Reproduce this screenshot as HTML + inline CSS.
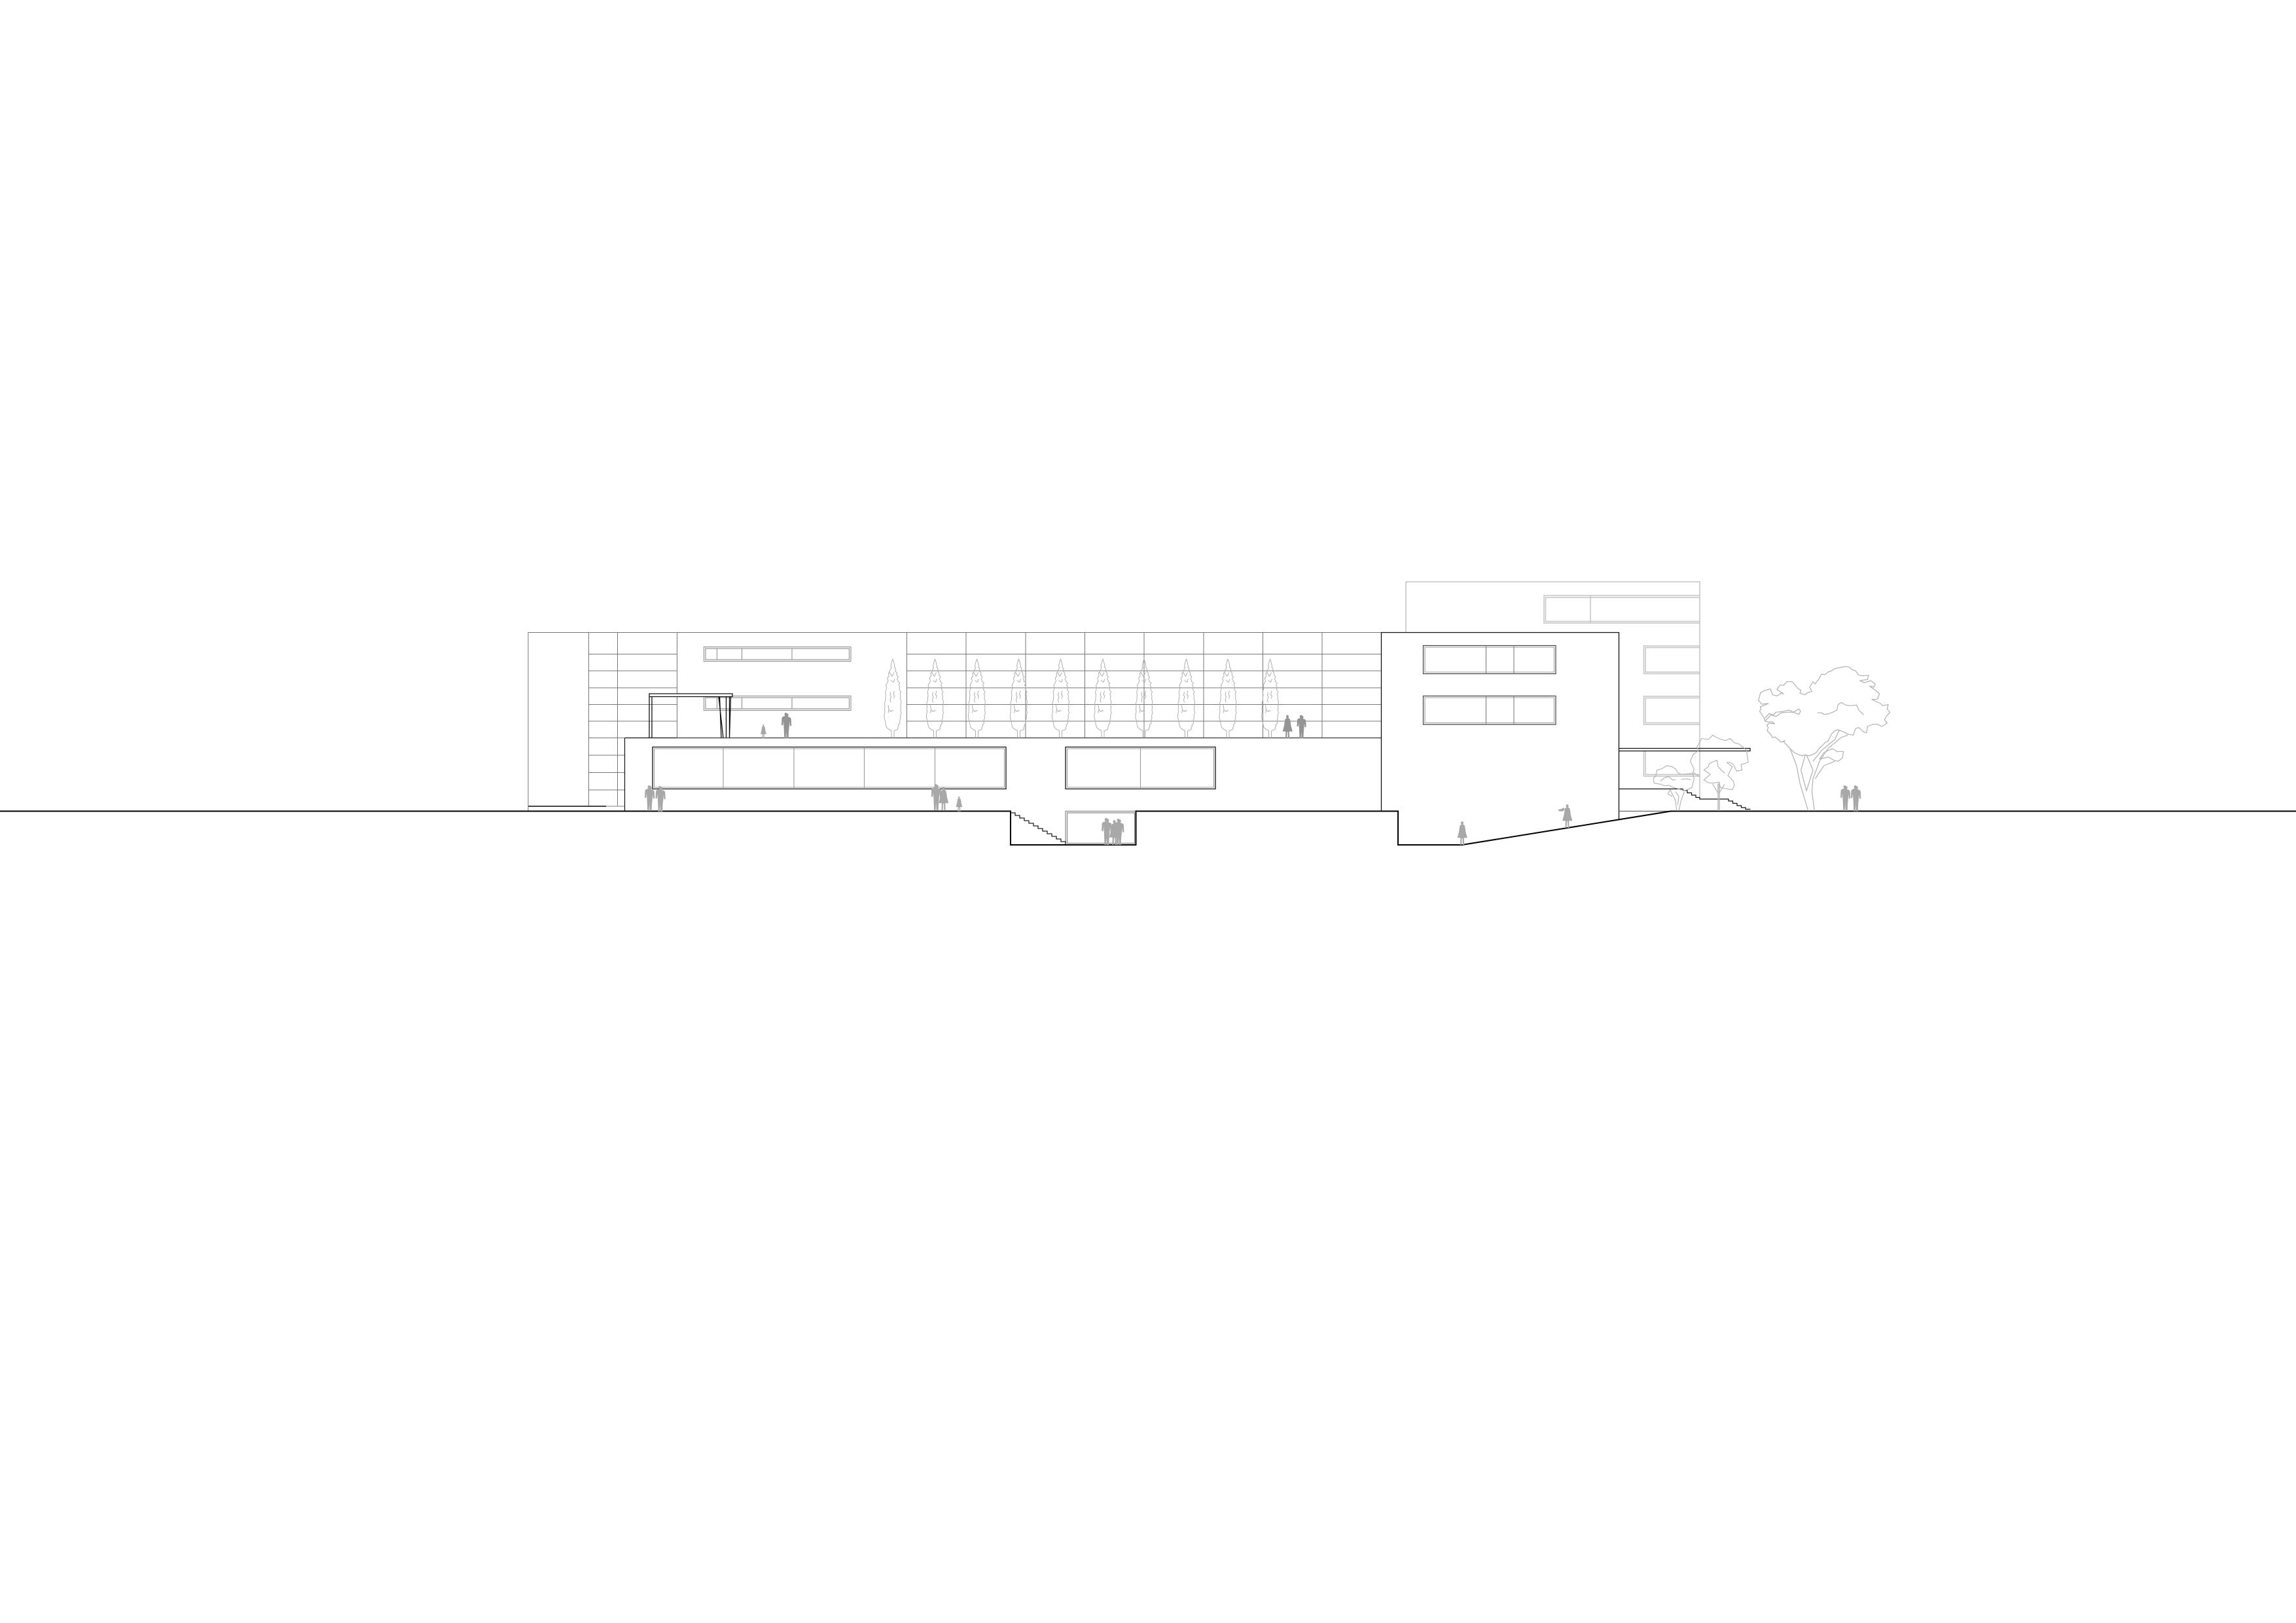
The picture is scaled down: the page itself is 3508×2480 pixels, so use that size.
<!DOCTYPE html>
<html><head><meta charset="utf-8"><style>html,body{margin:0;padding:0;background:#fff}svg{display:block}</style></head><body>
<svg xmlns="http://www.w3.org/2000/svg" width="3508" height="2480" viewBox="0 0 3508 2480">
<defs>
<g id="man"><path d="M0-100c5 0 7 3 7 7 0 3-1 5-3 6l9 3c4 2 5 6 5 12l1 22-6 1-2-18-1 20-2 20-1 27H-1l-1-28-2 28h-6l-1-30-1-20-1-20-2 18-6-1 1-22c0-6 1-10 5-12l9-3c-2-1-3-3-3-6 0-4 2-7 7-7z"/></g>
<g id="dress"><path d="M0-100c5 0 7 3 7 7 0 3-1 5-2 6l7 4 3 16 1 10 7 27H9l1 30H4l-1-28-3 0-1 28h-6l1-30H-19l7-27 1-10 3-16 7-4c-2-1-3-3-3-6 0-4 2-7 7-7z"/></g>
<g id="cyp" fill="none" stroke="#b0b0b0" stroke-width="1" stroke-linejoin="round">
<path d="M-2-11L-2 0M2-11L2 0M2-11L6-12 8-14 7.500-16 9-18 8.500-20 11-22 10.500-26 12-31 11.500-34 13-38 12-42 12.500-47 12-50 13-55 11.500-60 12-64 11-67 12.500-70 10-74 10.500-78 9-81 11-84 8-86 8-88 6.500-90 8.500-93 6-96 6.500-99 4-102 4.500-106 2.500-108 3-110 1.500-116 0-120.500-1.500-116-3-110-2-108-2.500-106-5-102-4.500-100-6.500-99-6-94-8-92-8-90-7-87-8.500-84-10.500-80-9.500-77-10-74-11.500-70-10.500-66-11-62-11-58-12.500-53-12-48-12.500-44-12-40-13-35-13-31-11.500-26-11-22-9.500-16-6-13-2-11"/>
<path d="M-3-70L-4-65-2.500-63-4-58-3-54M2.500-72L1-66 3-64 1.500-60M-7-50L-6-43-7-38M-6-43L-3-40-1-42 1-41M-5-100L-1-94 2-100M-3-88L1-85 3-90"/>
</g>
</defs>

<!-- back building -->
<g fill="none" stroke="#c4c4c4" stroke-width="1.500">
<path d="M2148 966V889H2597V1221"/>
<path d="M2430 910V952"/>
<path d="M2597 910H2359V952H2597M2597 913H2361.500V949.500H2597"/>
<path d="M2597 987H2511.500V1029.500H2597M2597 989.500H2514V1027H2597"/>
<path d="M2597 1064H2511.500V1107H2597M2597 1066.500H2514V1104.500H2597"/>
<path d="M2511.500 1147.500V1186H2597M2514 1147.500V1183.500H2597"/>
</g>

<!-- grid wall -->
<g fill="none" stroke="#777" stroke-width="1">
<path d="M807 1239V966.500H2111"/>
<path d="M899.500 966.500V1232M943.500 966.500V1232M1034.500 966.500V1127.500M1385.500 966.500V1127.500M1476 966.500V1127.500M1567 966.500V1127.500M1657.500 966.500V1127.500M1748 966.500V1127.500M1839 966.500V1127.500M1929.500 966.500V1127.500M2020 966.500V1127.500"/>
<path d="M899 999.500H1034M899 1025H1034M899 1051H1034M899 1076.500H1034M899 1102H1034M899 1127.500H954M899 1154H954M899 1180.500H954M899 1207H954"/>
<path d="M1385 999.500H2111M1385 1025H2111M1385 1051H2111M1385 1076.500H2111M1385 1102H2111"/>
<path d="M1034 1127.500H2111" stroke="#555" stroke-width="1.500"/>
</g>

<!-- upper wall windows -->
<g fill="none" stroke="#999" stroke-width="1.200">
<path d="M1075.500 988.500H1300V1010.500H1075.500ZM1078 991H1297.500V1008H1078Z"/>
<path d="M1095.500 991V1008M1133.500 991V1008M1210 991V1008"/>
<path d="M1075.500 1063.500H1300V1085.500H1075.500ZM1078 1066H1297.500V1083H1078Z"/>
<path d="M1095.500 1066V1083M1133.500 1066V1083M1210 1066V1083"/>
</g>

<!-- cypress trees -->
<use href="#cyp" transform="translate(1364,1127.500)"/>
<use href="#cyp" transform="translate(1428.500,1127.500)"/>
<use href="#cyp" transform="translate(1492.500,1127.500)"/>
<use href="#cyp" transform="translate(1556.500,1127.500)"/>
<use href="#cyp" transform="translate(1620.500,1127.500)"/>
<use href="#cyp" transform="translate(1685,1127.500)"/>
<use href="#cyp" transform="translate(1748,1127.500)"/>
<use href="#cyp" transform="translate(1812.500,1127.500)"/>
<use href="#cyp" transform="translate(1876,1127.500)"/>
<use href="#cyp" transform="translate(1940.500,1127.500)"/>

<!-- canopy -->
<g fill="none" stroke="#111" stroke-width="1.300">
<path d="M992 1060H1119V1064.500H992Z" fill="#fff"/>
<path d="M992 1064.500V1127.500M996 1064.500V1127.500"/>
<path d="M1098 1064.500L1105 1127.500M1099.500 1064.500L1102 1127.500" />
<path d="M1109.500 1064.500V1127.500M1114.500 1064.500V1127.500M1116.500 1064.500L1114.500 1127.500"/>
</g>
<path d="M954.500 1127.500H1034" stroke="#111" stroke-width="1.300"/>

<!-- front block: low building -->
<g fill="none" stroke="#111" stroke-width="1.200">
<path d="M954.500 1127.500V1239"/>
<path d="M997 1141.500H1537V1205.500H997Z" stroke-width="1.300"/>
<path d="M1628 1141.500H1857V1205.500H1628Z" stroke-width="1.300"/>
</g>
<g fill="none" stroke="#999" stroke-width="1.100">
<path d="M999.500 1144H1534.500V1203H999.500Z"/>
<path d="M1630.500 1144H1854.500V1203H1630.500Z"/>
<path d="M1105 1141.500V1205.500M1213 1141.500V1205.500M1320.500 1141.500V1205.500M1428.500 1141.500V1205.500M1742.500 1141.500V1205.500"/>
</g>

<!-- dark strip bottom-left -->
<path d="M807 1232H926" stroke="#444" stroke-width="2" fill="none"/>
<path d="M926 1232H954" stroke="#aaa" stroke-width="1.500" fill="none"/>

<!-- sunken window -->
<g fill="none" stroke="#888" stroke-width="1.200">
<path d="M1628 1291V1239.500H1735"/>
<path d="M1630.500 1288.500V1242H1733.500V1288.500H1630.500Z"/>
</g>

<!-- tall block -->
<g fill="none" stroke="#111" stroke-width="1.300">
<path d="M2110.500 1239V966.500H2473.500V1252"/>
</g>
<g fill="none" stroke="#444" stroke-width="1.200">
<path d="M2174.500 986.500H2377V1029.500H2174.500ZM2174.500 1063.500H2377V1107H2174.500Z"/>
</g>
<g fill="none" stroke="#a0a0a0" stroke-width="1.100">
<path d="M2177 989H2374.500V1027H2177ZM2177 1066H2374.500V1104.500H2177Z"/>
</g>
<path d="M2270.500 986.500V1029.500M2313 986.500V1029.500M2270.500 1063.500V1107M2313 1063.500V1107" fill="none" stroke="#888" stroke-width="1.200"/>

<!-- right canopy + ledge -->
<g fill="none" stroke="#111" stroke-width="1.200">
<path d="M2473.500 1143.500H2674V1147.500H2473.500"/>
<path d="M2473.500 1205.500H2571.500"/>
<path d="M2571.500 1206V1208h6.500v3.500h6.500v3.500h6.500v3.500h6v2.500H2641v3h6.500v3.500h6.500v3.500h6.500v3h6.500v2.500h7.500"/>
</g>
<path d="M2473.500 1239.500H2553" stroke="#666" stroke-width="1.200" fill="none"/>

<!-- ground and section -->
<path d="M0 1239.500H1544V1291H1735.500V1239.500H2136V1291H2234L2553 1239.500H3508" fill="none" stroke="#000" stroke-width="2"/>
<!-- stairs -->
<path d="M1544 1242h7v4h7v4h7v4h7v4h7v4h7v4h7v4h7v4h7v4h7v4h7v4h7v4" fill="none" stroke="#222" stroke-width="1.300"/>

<!-- big tree -->
<g transform="translate(2440,990) scale(0.33333)" fill="none" stroke="#b0b0b0" stroke-width="3.600" stroke-linejoin="round">
<path d="M885 462L870 445 855 430 862 425 845 432 830 420 815 408 805 412 795 395 780 380 785 365 778 355 790 345 815 348 800 338 785 340 770 335 765 320 745 290 752 280 748 270 770 262 785 255 755 258 740 240 750 205 770 195 795 188 805 215 825 220 850 205 855 212 825 190 840 170 855 172 870 155 895 155 908 170 920 185 935 195 930 208 955 215 965 205 985 200 975 180 990 155 1000 165 1015 145 1030 120 1045 122 1060 110 1075 105 1090 95 1115 90 1140 85 1155 88 1170 100 1185 105 1200 125 1220 128 1245 125 1240 145 1205 150 1225 160 1255 150 1275 165 1270 180 1250 175 1270 190 1295 210 1285 235 1260 237 1300 255 1310 265 1335 260 1330 280 1343 295 1325 315 1318 330 1330 345 1305 360 1285 350 1265 350 1240 360 1235 390 1222 385 1200 365 1185 370 1175 400 1150 395 1130 385 1105 375 1090 380 1075 395 1060 425 1045 435 1020 460 1005 480 985 490 970 495 955 490 940 495 925 490 905 480 885 462"/>
<path d="M1012 297L1030 298 1040 305 1060 303 1080 295 1100 285 1105 260 1120 250 1140 262 1160 265 1190 262 1200 285 1222 307"/>
<path d="M770 322L790 300 805 310 820 295 850 292 880 285 900 295 925 280 933 290 925 305 900 295 875 295 845 297 820 315 800 305 770 335"/>
<path d="M885 462L915 540 930 620 945 670 968 747M997 747L985 660 990 600 1020 520 1060 460 1120 410 1150 400"/>
<path d="M955 490L935 560 960 655 990 560 960 490"/>
<path d="M990 520L1030 470 1090 420 1110 378M1000 600L1040 540 1090 520"/>
<path d="M1020 510L1040 480 1060 470 1080 462 1100 475 1130 475 1125 505 1105 520 1085 515 1060 500 1020 510"/>
</g>

<!-- mid tree -->
<g transform="translate(2440,990) scale(0.33333)" fill="none" stroke="#b0b0b0" stroke-width="3.300" stroke-linejoin="round">
<path d="M470 590L440 570 445 555 428 520 440 490 465 470 458 455 480 415 510 420 530 400 550 412 570 420 590 425 610 415 630 435 650 440 670 455 685 470 690 500 693 525 660 535 665 560 640 565 625 535 610 525 595 525 620 545 600 585 625 610 630 630 620 650 590 645 565 640 560 615 530 620 510 618 490 605 520 580 490 560 510 545 515 530 550 515 555 545 585 575"/>
<path d="M555 747V620M561 747V620" stroke-width="4"/>
<path d="M530 625L555 665M585 625L560 665"/>
</g>

<!-- small tree -->
<g transform="translate(2440,990) scale(0.33333)" fill="none" stroke="#b0b0b0" stroke-width="3.300" stroke-linejoin="round">
<path d="M258 600L270 585 275 560 295 555 320 540 345 545 360 555 370 572 385 580 410 578 440 575 445 600 435 640 415 650 400 655 370 645 350 640 330 630 310 632 290 625 262 620 258 600"/>
<path d="M290 610L310 595 330 590 345 605 360 605M385 603L410 600 430 605"/>
<path d="M365 747L360 700 335 650M375 747L385 700 400 660M345 680L325 670 335 650M370 720L375 680 360 660"/>
</g>

<!-- people -->
<g fill="#a8a8a8">
<use href="#man" transform="translate(1202,1128) scale(.38)" fill="#949494"/>
<use href="#dress" transform="translate(1166,1128) scale(.21)"/>
<use href="#man" transform="translate(993,1239) scale(.38)"/>
<use href="#man" transform="translate(1009.500,1240) scale(.38)"/>
<use href="#man" transform="translate(1431,1238) scale(.39)"/>
<use href="#dress" transform="translate(1441,1238) scale(.36)"/>
<use href="#dress" transform="translate(1465,1240) scale(.23)"/>
<use href="#dress" transform="translate(1966.500,1128.500) scale(.36)" fill="#949494"/>
<use href="#man" transform="translate(1989,1128.500) scale(.35)" fill="#949494"/>
<use href="#man" transform="translate(1691.500,1291) scale(.4)"/>
<use href="#dress" transform="translate(1702,1291) scale(.38)"/>
<use href="#man" transform="translate(1710,1291) scale(.39)"/>
<use href="#dress" transform="translate(2233.500,1291) scale(.36)"/>
<use href="#dress" transform="translate(2394,1265) scale(.36)"/>
<path d="M2381 1237l5-1 3-2 2 3-4 3-6-1z"/>
<use href="#man" transform="translate(2820,1239) scale(.38)"/>
<use href="#man" transform="translate(2836,1239.500) scale(.385)"/>
</g>
</svg>
</body></html>
